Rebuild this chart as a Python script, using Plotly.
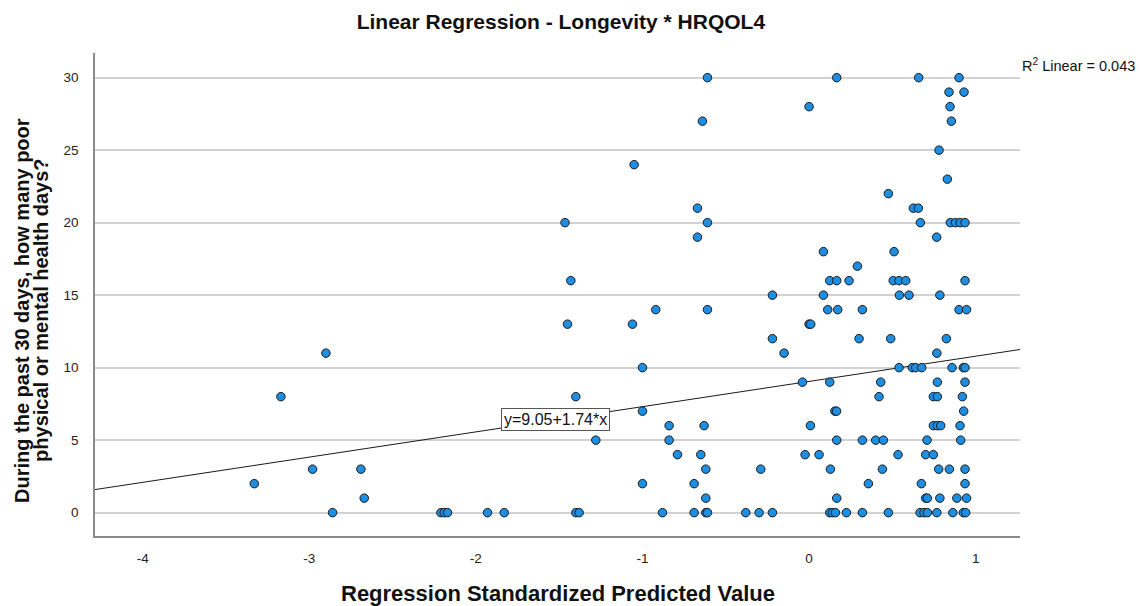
import plotly.graph_objects as go

# Standardized predicted values (x) and reported poor health days (y)
pred_std = [
    -0.61, 0.166, 0.658, 0.90,
    0.84, 0.93,
    0.0, 0.846,
    -0.64, 0.854,
    0.78,
    -1.05,
    0.83,
    0.476,
    -0.67, 0.626, 0.656,
    -1.465, -0.61, 0.668, 0.848, 0.879, 0.907, 0.936,
    -0.67, 0.766,
    0.086, 0.51,
    0.29,
    -1.43, 0.124, 0.166, 0.24, 0.505, 0.54, 0.58, 0.936,
    -0.22, 0.086, 0.542, 0.60, 0.785,
    -0.92, -0.61, 0.112, 0.172, 0.32, 0.90, 0.945,
    -1.45, -1.06, 0.0, 0.01,
    -0.22, 0.30, 0.49, 0.824,
    -2.90, -0.15, 0.767,
    -1.0, 0.54, 0.62, 0.64, 0.676, 0.858, 0.926, 0.936,
    -0.04, 0.124, 0.43, 0.77, 0.936,
    -3.17, -1.40, 0.42, 0.746, 0.77, 0.92,
    -1.0, 0.155, 0.165, 0.928,
    -0.84, -0.63, 0.008, 0.746, 0.77, 0.79, 0.906,
    -1.28, -0.84, 0.166, 0.32, 0.40, 0.446, 0.708, 0.91,
    -0.79, -0.65, -0.024, 0.06, 0.534, 0.70, 0.746,
    -2.98, -2.69, -0.62, -0.29, 0.128, 0.44, 0.778, 0.842, 0.936,
    -3.33, -1.0, -0.69, 0.356, 0.674, 0.936,
    -2.67, -0.62, 0.166, 0.70, 0.71, 0.785, 0.887, 0.945,
    -2.86, -2.21, -2.19, -2.17, -1.93, -1.83, -1.40, -1.38, -0.88, -0.69,
    -0.62, -0.61, -0.38, -0.30, -0.22, 0.124, 0.14, 0.158, 0.224, 0.32,
    0.476, 0.666, 0.69, 0.71, 0.767, 0.863, 0.926, 0.94,
]
poor_days = [
    30, 30, 30, 30,
    29, 29,
    28, 28,
    27, 27,
    25,
    24,
    23,
    22,
    21, 21, 21,
    20, 20, 20, 20, 20, 20, 20,
    19, 19,
    18, 18,
    17,
    16, 16, 16, 16, 16, 16, 16, 16,
    15, 15, 15, 15, 15,
    14, 14, 14, 14, 14, 14, 14,
    13, 13, 13, 13,
    12, 12, 12, 12,
    11, 11, 11,
    10, 10, 10, 10, 10, 10, 10, 10,
    9, 9, 9, 9, 9,
    8, 8, 8, 8, 8, 8,
    7, 7, 7, 7,
    6, 6, 6, 6, 6, 6, 6,
    5, 5, 5, 5, 5, 5, 5, 5,
    4, 4, 4, 4, 4, 4, 4,
    3, 3, 3, 3, 3, 3, 3, 3, 3,
    2, 2, 2, 2, 2, 2,
    1, 1, 1, 1, 1, 1, 1, 1,
    0, 0, 0, 0, 0, 0, 0, 0, 0, 0,
    0, 0, 0, 0, 0, 0, 0, 0, 0, 0,
    0, 0, 0, 0, 0, 0, 0, 0,
]

# Fit line: y = intercept + slope * x
intercept = 9.05
slope = 1.74
r_squared = 0.043

x_ticks = [-4, -3, -2, -1, 0, 1]
y_ticks = [0, 5, 10, 15, 20, 25, 30]

x_range = [-4.286, 1.266]
y_range = [-1.61, 31.70]

x_title = "Regression Standardized Predicted Value"
y_title_lines = [
    "During the past 30 days, how many poor",
    "physical or mental health days?",
]

FONT = "Liberation Sans, Arial, sans-serif"

fig = go.Figure()

fit_x = list(x_range)
fit_y = [intercept + slope * v for v in fit_x]
fig.add_trace(go.Scatter(
    x=fit_x, y=fit_y, mode="lines",
    line=dict(color="#1a1a1a", width=1),
    hoverinfo="skip", showlegend=False,
))

fig.add_trace(go.Scatter(
    x=pred_std, y=poor_days, mode="markers",
    marker=dict(size=8.5, color="#1e8ee3",
                line=dict(color="#1a1a1a", width=1)),
    showlegend=False,
))

label_x = -1.52
fig.add_annotation(
    x=label_x, y=intercept + slope * label_x,
    text=f"y={intercept:.2f}+{slope:.2f}*x",
    showarrow=False, bgcolor="white",
    bordercolor="#555555", borderwidth=1, borderpad=2,
    font=dict(family=FONT, size=16, color="#111111"),
)

fig.add_annotation(
    xref="paper", yref="paper", x=1.0, y=1.0,
    xanchor="left", yanchor="top", yshift=-1,
    text=f"R<sup>2</sup> Linear = {r_squared:.3f}",
    showarrow=False,
    font=dict(family=FONT, size=14.5, color="#111111"),
)

# x-axis title placed below the tick labels
fig.add_annotation(
    xref="paper", yref="paper", x=0.5, y=0,
    xanchor="center", yanchor="middle", yshift=-57,
    text=f"<b>{x_title}</b>", showarrow=False,
    font=dict(family=FONT, size=22, color="#111111"),
)

# Two-line rotated y-axis title, set tightly
for shift, line in zip([-73, -54], y_title_lines):
    fig.add_annotation(
        xref="paper", yref="paper", x=0, y=0.466,
        xanchor="center", yanchor="middle", xshift=shift,
        text=f"<b>{line}</b>", textangle=-90, showarrow=False,
        font=dict(family=FONT, size=20, color="#111111"),
    )

fig.update_layout(
    width=1140, height=606,
    margin=dict(l=95, r=120, t=53, b=70, autoexpand=False),
    paper_bgcolor="white", plot_bgcolor="white",
    title=dict(
        text="<b>Linear Regression - Longevity * HRQOL4</b>",
        x=0.492, xanchor="center", y=0.9637, yanchor="middle",
        font=dict(family=FONT, size=21, color="#111111"),
    ),
    font=dict(family=FONT, color="#111111"),
)

fig.update_xaxes(
    range=x_range, tickvals=x_ticks,
    ticktext=[str(v) for v in x_ticks],
    showgrid=False, zeroline=False, automargin=False,
    showline=True, linecolor="#8a8a8a", linewidth=1.5,
    ticks="", ticklabelstandoff=9,
    tickfont=dict(family=FONT, size=13.5, color="#222222"),
)

fig.update_yaxes(
    range=y_range, tickvals=y_ticks,
    ticktext=[str(v) for v in y_ticks],
    showgrid=True, gridcolor="#d2d2d2", gridwidth=1.5,
    zeroline=False, automargin=False,
    showline=True, linecolor="#8a8a8a", linewidth=1.5,
    ticks="", ticklabelstandoff=12,
    tickfont=dict(family=FONT, size=13.5, color="#222222"),
)

fig.write_html("out.html")
